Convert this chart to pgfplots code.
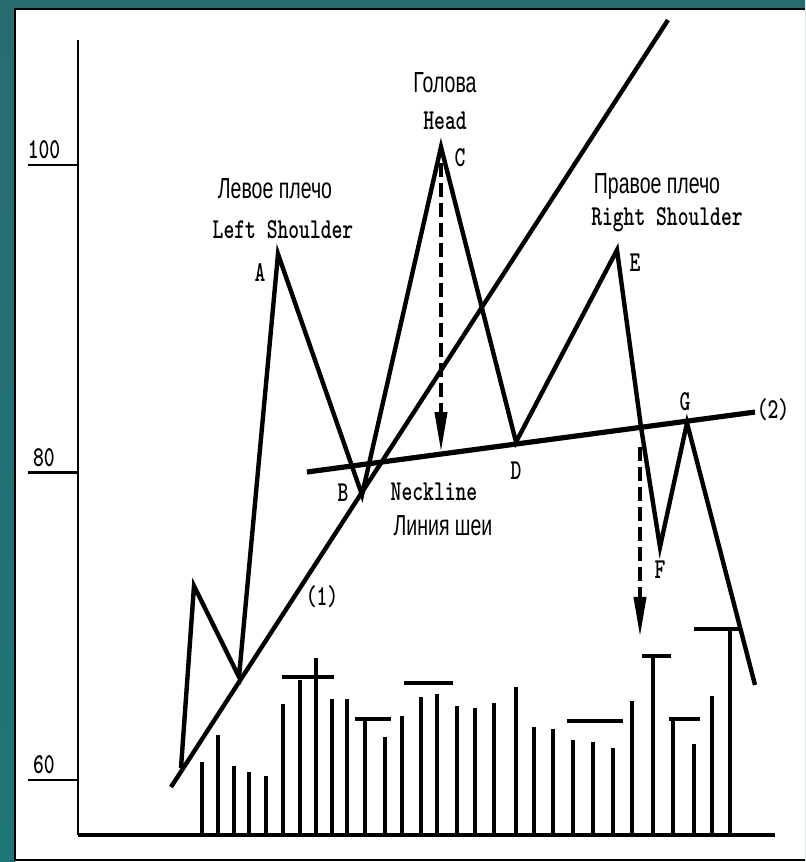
\documentclass[border=0pt]{standalone}
\usepackage{fontspec}
\usepackage{pgfplots}
\pgfplotsset{compat=1.18}
\usetikzlibrary{arrows.meta}
\newfontfamily\rufont{Liberation Sans}
\newcommand{\en}[1]{\scalebox{1}[1.4]{\fontsize{10.3}{12}\selectfont\ttfamily\bfseries #1}}
\newcommand{\ru}[1]{\scalebox{0.82}[1.22]{\fontsize{11.9}{14}\selectfont\rufont #1}}
\definecolor{tealA}{RGB}{40,108,112}
\definecolor{tealB}{RGB}{112,140,140}
\definecolor{tealC}{RGB}{30,118,120}
\begin{document}
\begin{tikzpicture}
\useasboundingbox (0,0) rectangle (402.5pt,431pt);
\shade[top color=tealA, middle color=tealB, bottom color=tealC] (0,0) rectangle (402.5pt,431pt);
\fill[white] (7.5pt,0) rectangle (402.5pt,426.5pt);
\draw[line width=1pt] (402.5pt,426.5pt) -- (7.5pt,426.5pt) -- (7.5pt,1pt) -- (402.5pt,1pt);
% volume axis
\begin{axis}[at={(39pt,13.5pt)}, anchor=south west, scale only axis,
  width=348.5pt, height=397.5pt, xmin=0, xmax=697, ymin=0, ymax=795,
  axis lines=none, clip=false]
\addplot[ycomb, line width=1.6pt, black, no marks] coordinates {
(124,73) (140,100) (156,69) (171,63) (188,59) (205,131) (222,155) (238,177)
(254,136) (269,136) (287,117) (307,98) (324,119) (343,138) (359,141) (379,129)
(397,127) (416,132) (438,148) (456,108) (475,106) (495,95) (515,93) (535,87)
(554,134) (575,178) (595,114) (616,91) (634,139) (652,206)};
\addplot[line width=2pt, black, no marks] coordinates {(204,158) (256,158)};
\addplot[line width=2pt, black, no marks] coordinates {(277,116) (313,116)};
\addplot[line width=2pt, black, no marks] coordinates {(326,152) (375,152)};
\addplot[line width=2pt, black, no marks] coordinates {(489,114) (545,114)};
\addplot[line width=2pt, black, no marks] coordinates {(564,179) (593,179)};
\addplot[line width=2pt, black, no marks] coordinates {(591,116) (622,116)};
\addplot[line width=2pt, black, no marks] coordinates {(616,206) (662,206)};
\end{axis}
% price axis
\begin{axis}[at={(39pt,13.5pt)}, anchor=south west, scale only axis,
  width=348.5pt, height=397.5pt, xmin=0, xmax=697, ymin=56.42, ymax=108.13,
  axis x line=bottom, axis y line=left,
  x axis line style={-, line width=2.2pt},
  y axis line style={-, line width=1.3pt},
  xtick=\empty, ytick={60,80,100}, yticklabels={\en{60},\en{80},\en{100}},
  tick align=outside, major tick length=25pt,
  ytick style={line width=1.4pt, black},
  yticklabel style={anchor=south, xshift=8pt, yshift=-0.5pt},
  clip=false]
% trend line (1)
\addplot[line width=2.2pt, black, no marks] coordinates {(93,59.54) (590,109.43)};
% neckline (2)
\addplot[line width=2.6pt, black, no marks] coordinates {(229,80.03) (677,83.93)};
% price path
\addplot[line width=2.2pt, black, no marks, line join=miter] coordinates {
(103,60.78) (116,72.62) (161,66.70) (200,94.21) (284,78.54) (363,101.17)
(438,81.98) (539,94.47) (563,82.96) (582,75.15) (609,83.22) (677,66.18)};
% projection arrows
\addplot[line width=2pt, black, no marks, dash pattern=on 7pt off 3pt,
  -{Triangle[length=20pt,width=6pt]}] coordinates {(363,100.1) (363,81.33)};
\addplot[line width=2pt, black, no marks, dash pattern=on 7pt off 3pt,
  -{Triangle[length=20pt,width=6pt]}] coordinates {(562,81.66) (562,69.30)};
% labels
\node at (axis cs:367,105.33) {\ru{Голова}};
\node at (axis cs:367,102.86) {\en{Head}};
\node at (axis cs:382,100.46) {\en{C}};
\node at (axis cs:197,98.44) {\ru{Левое плечо}};
\node at (axis cs:205,95.77) {\en{Left Shoulder}};
\node at (axis cs:182,92.98) {\en{A}};
\node at (axis cs:579,98.57) {\ru{Правое плечо}};
\node at (axis cs:589,96.42) {\en{Right Shoulder}};
\node at (axis cs:557,93.63) {\en{E}};
\node at (axis cs:265,78.67) {\en{B}};
\node at (axis cs:356,78.73) {\en{Neckline}};
\node at (axis cs:365,76.52) {\ru{Линия шеи}};
\node at (axis cs:438,80.10) {\en{D}};
\node at (axis cs:244,71.90) {\en{(1)}};
\node at (axis cs:607,84.59) {\en{G}};
\node at (axis cs:695,84.07) {\en{(2)}};
\node at (axis cs:582,73.66) {\en{F}};
\end{axis}
\end{tikzpicture}
\end{document}
